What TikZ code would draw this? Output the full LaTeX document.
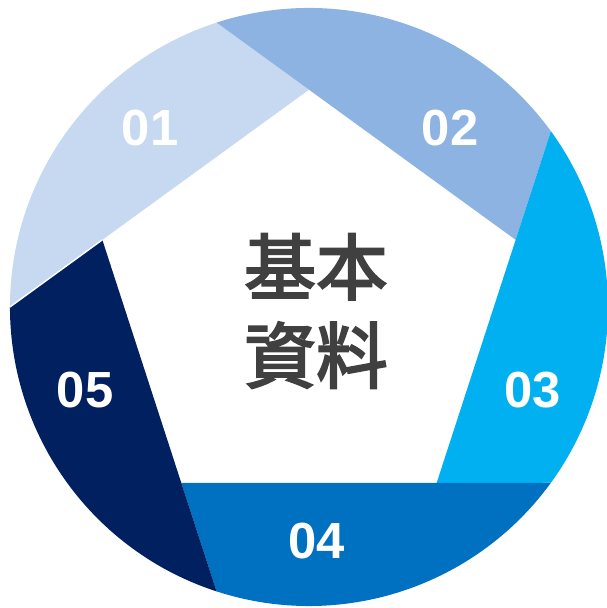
\documentclass[tikz,border=0pt]{standalone}
\usepackage{fontspec}
\setmainfont{Liberation Sans}
\newfontfamily\cjk[FakeBold=3]{Noto Sans CJK TC}
\definecolor{segone}{HTML}{C6D9F1}
\definecolor{segtwo}{HTML}{8DB3E2}
\definecolor{segthree}{HTML}{00B0F0}
\definecolor{segfour}{HTML}{0070C0}
\definecolor{segfive}{HTML}{002060}
\definecolor{titlegray}{HTML}{404040}
\newcommand*{\circR}{3}
\newcommand*{\pentR}{2.18}

\begin{document}
\begin{tikzpicture}[
        every node/.style={inner sep=0pt},
        num/.style={text=white, font=\bfseries\fontsize{14.5}{16}\selectfont},
        title/.style={text=titlegray, align=center, font=\cjk\fontsize{20.5}{25.3}\selectfont},
        ]
        \useasboundingbox (-3.100,-3.020) rectangle (2.980,3.080);

        % blades: arc of the circle, then back along the pentagon edge
        \fill[segone]   (108:\circR) arc[start angle=108, end angle=180, radius=\circR] -- (162:\pentR) -- (90:\pentR) -- cycle;
        \fill[segtwo]   (36:\circR) arc[start angle=36, end angle=108, radius=\circR] -- (90:\pentR) -- (18:\pentR) -- cycle;
        \fill[segthree] (-36:\circR) arc[start angle=-36, end angle=36, radius=\circR] -- (18:\pentR) -- (-54:\pentR) -- cycle;
        \fill[segfour]  (-108:\circR) arc[start angle=-108, end angle=-36, radius=\circR] -- (-54:\pentR) -- (-126:\pentR) -- cycle;
        \fill[segfive]  (180:\circR) arc[start angle=180, end angle=252, radius=\circR] -- (234:\pentR) -- (162:\pentR) -- cycle;
        \draw[white, line width=0.4pt] (162:\pentR) -- (180:\circR);

        \node[num] (n01) at (-1.595,1.796) {01};
        \node[num] (n02) at (1.415,1.796) {02};
        \node[num] (n03) at (2.247,-0.833) {03};
        \node[num] (n04) at (0.080,-2.348) {04};
        \node[num] (n05) at (-2.247,-0.833) {05};

        \node[title] (center) at (0.07,-0.04) {基本\\資料};
      \end{tikzpicture}
\end{document}
